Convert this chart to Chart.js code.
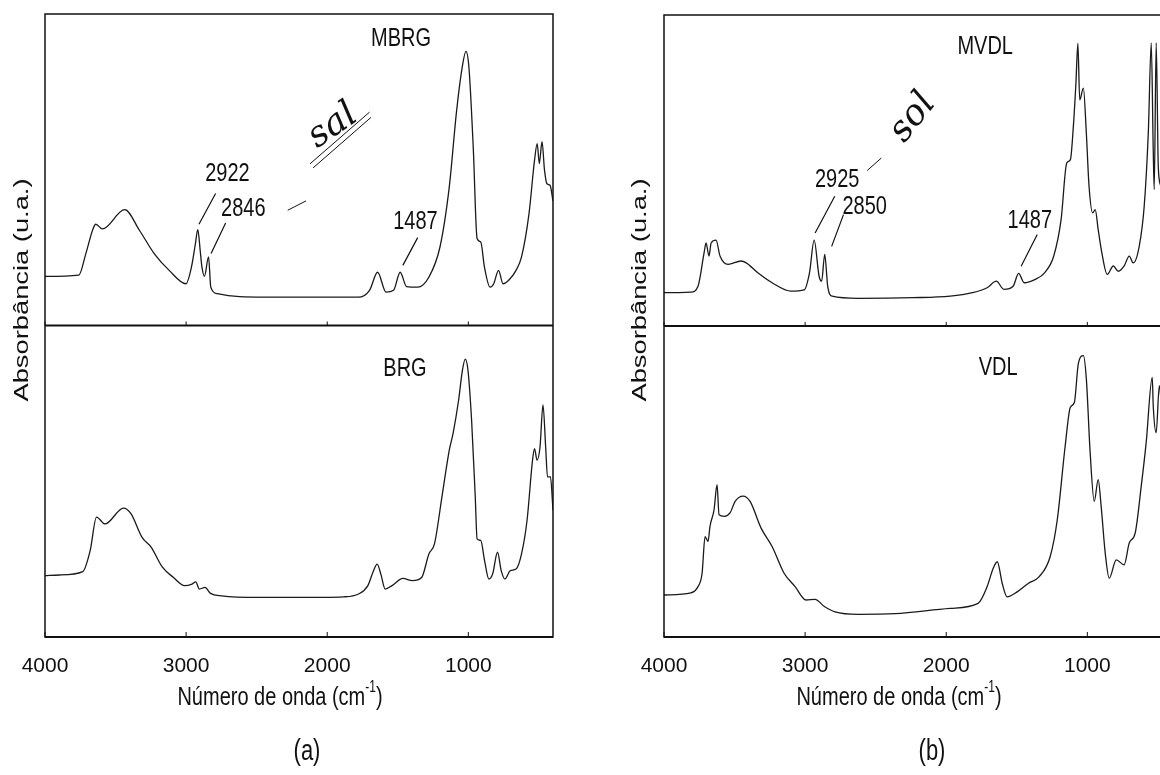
<!DOCTYPE html>
<html>
<head>
<meta charset="utf-8">
<script src="https://cdn.jsdelivr.net/npm/chart.js@4"></script>
<style>
  html, body { margin: 0; padding: 0; background: #fff; overflow: hidden; width: 1160px; height: 775px; }
  .panel { position: absolute; top: 0; }
  #pa { left: 0; }
  #pb { left: 600px; }
  canvas { display: block; }
</style>
</head>
<body>
<div class="panel" id="pa"><canvas id="chartA" width="580" height="775"></canvas></div>
<div class="panel" id="pb"><canvas id="chartB" width="600" height="775"></canvas></div>
<script>
// x tick labels (cm-1)
const xTicks = [4000, 3000, 2000, 1000];

// (a) top: MBRG
const mbrgWave = [4000, 3760, 3711, 3660, 3640, 3593, 3435, 3330, 3225, 3120, 3001, 2962, 2935, 2917, 2900, 2888, 2870, 2841, 2825, 2778, 2620, 2226, 1779, 1700, 1643, 1583, 1530, 1483, 1438, 1359, 1280, 1201, 1135, 1083, 1043, 1017, 996, 965, 938, 912, 886, 846, 820, 786, 754, 714, 662, 623, 570, 531, 512, 497, 478, 460, 443, 421, 400];
const mbrgAbs  = [15.8, 16.2, 23, 31, 32.5, 31, 37.2, 30.5, 23, 17.7, 13.4, 18.8, 26, 30.8, 24, 18.8, 15.8, 22, 12.3, 10.2, 9.3, 9.1, 9.1, 11.3, 17.1, 10.7, 11.3, 17.1, 12.5, 12.3, 15.5, 25.2, 44.5, 69, 83, 88, 83, 57, 27.9, 26.8, 18.8, 12.3, 13.4, 17.7, 13.4, 14.5, 17.7, 22, 35.9, 53, 58.4, 52, 59, 49.8, 45.5, 45, 40];

// (a) bottom: BRG
const brgWave = [4000, 3900, 3732, 3680, 3635, 3575, 3444, 3391, 3312, 3247, 3168, 3089, 3011, 2958, 2932, 2906, 2866, 2827, 2748, 2486, 2223, 1882, 1778, 1712, 1672, 1646, 1620, 1589, 1541, 1463, 1397, 1331, 1279, 1240, 1187, 1135, 1108, 1069, 1043, 1022, 1003, 977, 951, 938, 912, 885, 854, 828, 793, 767, 741, 702, 662, 623, 584, 545, 531, 513, 492, 471, 452, 439, 418, 400];
const brgAbs  = [19.7, 19.9, 21, 27.7, 38.5, 36.3, 41.4, 39.6, 32, 28.8, 22.4, 19.1, 16.5, 17, 17.7, 15.4, 15.9, 14, 13.2, 12.7, 12.7, 12.9, 13.8, 16.5, 21.3, 23.4, 20.2, 15.4, 16.5, 18.8, 18.1, 19.1, 26.7, 29.9, 45, 60, 65.4, 76, 85.3, 89.2, 85.8, 69.7, 45, 31.5, 31, 24.5, 18.6, 20.2, 27.2, 21.3, 18.6, 21.3, 21.8, 26.7, 37.4, 56.8, 60.5, 56.8, 61, 74.5, 61, 51.4, 51.4, 40.6];

// (b) top: MVDL
const mvdlWave = [4000, 3809, 3759, 3716, 3702, 3681, 3666, 3631, 3603, 3546, 3454, 3417, 3335, 3234, 3100, 3007, 2969, 2936, 2901, 2883, 2861, 2840, 2808, 2624, 2235, 1972, 1815, 1710, 1645, 1591, 1526, 1487, 1448, 1369, 1303, 1238, 1186, 1146, 1120, 1099, 1081, 1067, 1054, 1028, 1007, 988, 962, 944, 923, 897, 859, 816, 781, 739, 703, 675, 632, 597, 568, 547, 533, 526, 512, 497, 480];
const mvdlAbs  = [10.7, 10.9, 12.8, 23.5, 26.7, 22.5, 26.7, 27.6, 22.5, 19.8, 20.9, 20.3, 17.1, 13.9, 11.2, 11.6, 17.1, 27.6, 16, 14.4, 23, 12.8, 9.6, 8.9, 9.1, 9.6, 10.7, 12.3, 14.4, 11.8, 12.8, 16.9, 13.9, 15, 17.1, 22.5, 34.2, 52.4, 53.5, 64.2, 78, 90.9, 72.7, 76.5, 62, 45, 36.4, 37.4, 31, 23.5, 16.6, 19.3, 17.6, 19.3, 22.5, 20.3, 25.7, 38.5, 62, 91, 56.7, 43.9, 91, 51, 45];

// (b) bottom: VDL
const vdlWave = [4000, 3809, 3759, 3730, 3709, 3688, 3674, 3645, 3624, 3610, 3574, 3532, 3496, 3440, 3390, 3312, 3234, 3149, 3071, 2993, 2929, 2866, 2788, 2624, 2362, 1972, 1774, 1710, 1667, 1638, 1603, 1568, 1497, 1419, 1341, 1263, 1213, 1157, 1121, 1092, 1064, 1028, 1007, 980, 951, 923, 902, 873, 845, 795, 739, 703, 661, 618, 583, 540, 533, 512, 490, 470];
const vdlAbs  = [13.5, 14.2, 16.2, 20.5, 32.3, 30.7, 35.6, 41, 49, 39.3, 38.8, 39.9, 43.6, 45.3, 43.6, 35, 29.1, 20.5, 16.2, 11.9, 12.1, 9.9, 8.1, 7.3, 7.5, 9.2, 10.8, 16.2, 22.1, 24.2, 17.2, 12.9, 14.5, 17.2, 19.4, 25.9, 37.7, 61.4, 73.8, 75.4, 87.8, 90.5, 83, 59.3, 43.6, 50.6, 42, 26.9, 18.9, 24.8, 23.2, 30.2, 33.4, 48.5, 62.5, 83.5, 74.4, 65.7, 80.8, 70];

const FONT = "'Liberation Sans', Arial, sans-serif";
const STRETCH = 1.3;   // the scanned figure is taller than wide

function pts(w, a) {
  return w.map((v, i) => ({ x: v, y: a[i] }));
}

// text stretched vertically like the scan
function tallText(ctx, text, x, y, size) {
  ctx.save();
  ctx.translate(x, y);
  ctx.scale(1, STRETCH);
  ctx.font = size + 'px ' + FONT;
  ctx.fillText(text, 0, 0);
  ctx.restore();
}

const panelText = {
  id: 'panelText',
  afterDraw(chart, args, o) {
    const { ctx, chartArea: a } = chart;
    const xs = chart.scales.x, yT = chart.scales.yTop, yB = chart.scales.yBot;
    const mid = yT.bottom;
    const px = w => xs.getPixelForValue(w);
    const py = (v, s) => (s === 'b' ? yB : yT).getPixelForValue(v);

    ctx.save();
    ctx.strokeStyle = '#111';
    ctx.lineWidth = 1.5;
    ctx.strokeRect(a.left, a.top, a.right - a.left, a.bottom - a.top);
    ctx.lineWidth = 2;
    ctx.beginPath();
    ctx.moveTo(a.left, mid); ctx.lineTo(a.right, mid);
    ctx.moveTo(a.left, a.bottom); ctx.lineTo(a.right, a.bottom);
    ctx.stroke();
    ctx.lineWidth = 1;
    ctx.beginPath();
    xs.ticks.forEach(t => {
      const p = px(t.value);
      ctx.moveTo(p, a.bottom); ctx.lineTo(p, a.bottom - 5);
      ctx.moveTo(p, mid); ctx.lineTo(p, mid - 4);
    });
    ctx.stroke();

    // names and peak labels
    ctx.fillStyle = '#111';
    ctx.textAlign = 'center';
    ctx.textBaseline = 'middle';
    o.labels.forEach(l => tallText(ctx, l.text, px(l.w), py(l.v, l.s), 20));
    ctx.lineWidth = 1.2;
    ctx.beginPath();
    o.leaders.forEach(l => { ctx.moveTo(px(l[0]), py(l[1])); ctx.lineTo(px(l[2]), py(l[3])); });
    ctx.stroke();

    // handwritten notes
    ctx.font = "italic 36px 'DejaVu Serif', serif";
    o.notes.forEach(n => {
      ctx.save();
      ctx.translate(px(n.w), py(n.v));
      ctx.rotate(n.rot);
      ctx.fillText(n.text, 0, 0);
      ctx.restore();
    });
    ctx.lineWidth = 1;
    ctx.beginPath();
    o.strokes.forEach(l => { ctx.moveTo(px(l[0]), py(l[1])); ctx.lineTo(px(l[2]), py(l[3])); });
    ctx.stroke();

    // y title, stretched along its length
    ctx.save();
    ctx.translate(a.left - o.yGap, o.yMid);
    ctx.rotate(-Math.PI / 2);
    ctx.scale(STRETCH, 1);
    ctx.font = '21px ' + FONT;
    ctx.fillText('Absorbância (u.a.)', 0, 0);
    ctx.restore();

    // x title with superscript
    const t1 = 'Número de onda (cm', t2 = '-1', t3 = ')';
    ctx.font = '20px ' + FONT;
    const w1 = ctx.measureText(t1).width, w3 = ctx.measureText(t3).width;
    ctx.font = '12px ' + FONT;
    const w2 = ctx.measureText(t2).width;
    const x0 = a.left + o.titleX - (w1 + w2 + w3) / 2;
    const ty = 698;
    ctx.textAlign = 'left';
    tallText(ctx, t1, x0, ty, 20);
    tallText(ctx, t2, x0 + w1, ty - 10, 12);
    tallText(ctx, t3, x0 + w1 + w2, ty, 20);

    ctx.textAlign = 'center';
    tallText(ctx, o.letter, a.left + o.letterX, 752, 22);
    ctx.restore();
  }
};

function spectrum(id, top, bottom, pad, notes) {
  const line = { borderColor: '#1a1a1a', borderWidth: 1.3, pointRadius: 0, fill: false, cubicInterpolationMode: 'monotone' };
  return new Chart(document.getElementById(id), {
    type: 'line',
    data: {
      datasets: [
        Object.assign({ data: top, yAxisID: 'yTop' }, line),
        Object.assign({ data: bottom, yAxisID: 'yBot' }, line)
      ]
    },
    options: {
      responsive: false,
      animation: false,
      layout: { padding: pad },
      plugins: { legend: { display: false }, tooltip: { enabled: false }, panelText: notes },
      scales: {
        x: {
          type: 'linear', reverse: true, min: 400, max: 4000,
          afterBuildTicks: s => { s.ticks = xTicks.map(v => ({ value: v })); },
          afterFit: s => { s.height = 40; },
          grid: { display: false },
          border: { display: false },
          ticks: { color: '#111', padding: 9, maxRotation: 0, autoSkip: false, font: { family: FONT, size: 21 }, callback: v => String(v) }
        },
        // stacked axes: the one listed last is placed on top
        yBot: { type: 'linear', min: 0, max: 100, display: false, stack: 'spec', stackWeight: 1 },
        yTop: { type: 'linear', min: 0, max: 100, display: false, stack: 'spec', stackWeight: 1 }
      }
    },
    plugins: [panelText]
  });
}

spectrum('chartA', pts(mbrgWave, mbrgAbs), pts(brgWave, brgAbs),
  { left: 45, right: 27, top: 14, bottom: 98 },
  {
    labels: [
      { text: 'MBRG', w: 1477, v: 92 }, { text: 'BRG', w: 1449, v: 86, s: 'b' },
      { text: '2922', w: 2707, v: 48.6 }, { text: '2846', w: 2595, v: 37.6 }, { text: '1487', w: 1375, v: 33.2 }
    ],
    leaders: [[2791, 42.4, 2909, 32.5], [2720, 32.9, 2823, 23.1], [1359, 28.2, 1464, 19.3]],
    notes: [{ text: 'sal', w: 1960, v: 64, rot: -0.6 }],
    strokes: [[2122, 51.9, 1700, 68.5], [2100, 50.6, 1690, 66.8], [2280, 37, 2150, 40]],
    yGap: 23, yMid: 290, titleX: 235, letter: '(a)', letterX: 262
  });

spectrum('chartB', pts(mvdlWave, mvdlAbs), pts(vdlWave, vdlAbs),
  { left: 64, right: 28, top: 15, bottom: 98 },
  {
    labels: [
      { text: 'MVDL', w: 1724, v: 89.8 }, { text: 'VDL', w: 1632, v: 86.7, s: 'b' },
      { text: '2925', w: 2773, v: 47 }, { text: '2850', w: 2578, v: 38.2 }, { text: '1487', w: 1408, v: 33.7 }
    ],
    leaders: [[2790, 41.7, 2929, 29.9], [2728, 35.8, 2812, 25.6], [1355, 29.4, 1469, 19.2]],
    notes: [{ text: 'sol', w: 2235, v: 67, rot: -0.9 }],
    strokes: [[2560, 50, 2460, 54]],
    yGap: 24, yMid: 290, titleX: 235, letter: '(b)', letterX: 268
  });
</script>
</body>
</html>
